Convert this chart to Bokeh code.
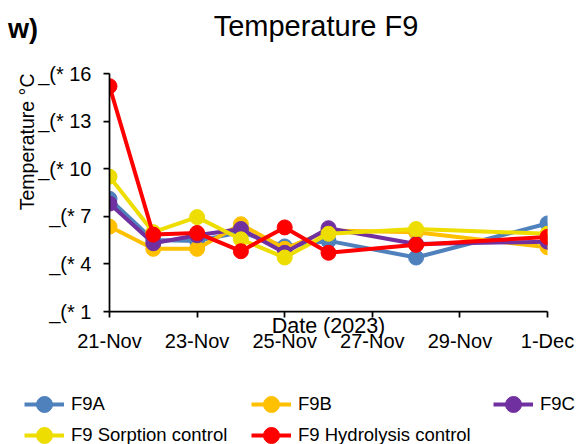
import pandas as pd
from bokeh.plotting import figure
from bokeh.layouts import column
from bokeh.models import (Range1d, FixedTicker, CustomJSTickFormatter, Label, Title,
                          Legend, LegendItem, ColumnDataSource)
from bokeh.embed import file_html
from bokeh.resources import INLINE

# ---------------- data ----------------
dates = ["2023-11-21", "2023-11-22", "2023-11-23", "2023-11-24",
         "2023-11-25", "2023-11-26", "2023-11-28", "2023-12-01"]
f9a = [8.1, 5.5, 5.45, 6.0, 5.1, 5.45, 4.4, 6.55]
f9b = [6.35, 4.95, 4.95, 6.5, 4.95, 6.1, 6.0, 5.05]
f9c = [7.8, 5.3, 5.8, 6.2, 4.7, 6.25, 5.25, 5.4]
f9_sorption = [9.5, 6.0, 6.95, 5.55, 4.4, 5.9, 6.2, 5.9]
f9_hydrolysis = [15.2, 5.85, 5.95, 4.8, 6.3, 4.7, 5.2, 5.7]
series_names = ["F9A", "F9B", "F9C", "F9 Sorption control", "F9 Hydrolysis control"]
series_colors = ["#4F81BD", "#FFC000", "#7030A0", "#EEDD00", "#FF0000"]
x_tick_dates = ["2023-11-21", "2023-11-23", "2023-11-25", "2023-11-27",
                "2023-11-29", "2023-12-01"]
y_ticks = [1, 4, 7, 10, 13, 16]
y_tick_labels = ["_(* 1", "_(* 4", "_(* 7", "_(* 10", "_(* 13", "_(* 16"]
title_text = "Temperature F9"
panel_tag = "w)"
x_title = "Date (2023)"
y_title = "Temperature °C"

FONT = "Liberation Sans"
W = 584


def bare(fig):
    fig.outline_line_color = None
    fig.grid.visible = False
    fig.background_fill_color = "white"
    fig.border_fill_color = "white"
    try:
        fig.frame_align = False
    except (AttributeError, ValueError):
        pass


# ---------------- header (panel tag + title) ----------------
head = figure(width=W, height=52, output_backend="svg", toolbar_location=None,
              x_axis_location=None, y_axis_location=None,
              min_border=0, x_range=Range1d(0, 1), y_range=Range1d(0, 1))
bare(head)
head.add_layout(Label(x=315.5, y=26.5, x_units="screen", y_units="screen",
                      text=title_text, text_align="center", text_baseline="middle",
                      text_font=FONT, text_font_size="29px", text_color="black"))
head.add_layout(Label(x=7.5, y=24, x_units="screen", y_units="screen",
                      text=panel_tag, text_align="left", text_baseline="middle",
                      text_font=FONT, text_font_size="27px", text_font_style="bold",
                      text_color="black"))

# ---------------- main chart ----------------
x = pd.to_datetime(dates)
series_values = [f9a, f9b, f9c, f9_sorption, f9_hydrolysis]

p = figure(width=W, height=308, x_axis_type="datetime",
           output_backend="svg", toolbar_location=None,
           min_border_left=109, min_border_right=37,
           min_border_top=21, min_border_bottom=49)
p.x_range = Range1d(pd.Timestamp(x_tick_dates[0]), pd.Timestamp(x_tick_dates[-1]))
p.y_range = Range1d(y_ticks[0], y_ticks[-1])
bare(p)

tick_ms = [pd.Timestamp(d).value / 1e6 for d in x_tick_dates]
p.xaxis.ticker = FixedTicker(ticks=tick_ms)
p.xaxis.formatter = CustomJSTickFormatter(code="""
const m = ["Jan","Feb","Mar","Apr","May","Jun","Jul","Aug","Sep","Oct","Nov","Dec"];
const d = new Date(tick);
return d.getUTCDate() + "-" + m[d.getUTCMonth()];
""")
p.yaxis.ticker = FixedTicker(ticks=y_ticks)
p.yaxis.major_label_overrides = {t: l for t, l in zip(y_ticks, y_tick_labels)}
for ax in (p.xaxis[0], p.yaxis[0]):
    ax.axis_line_color = "black"
    ax.axis_line_width = 1.75
    ax.major_tick_line_color = "black"
    ax.major_tick_line_width = 1.75
    ax.major_tick_in = 0
    ax.major_tick_out = 6
    ax.minor_tick_line_color = None
    ax.major_label_text_font = FONT
    ax.major_label_text_font_size = "20px"
    ax.major_label_text_color = "black"
    ax.major_label_standoff = 12

xa = p.xaxis[0]
xa.axis_label = x_title
xa.axis_label_text_font = FONT
xa.axis_label_text_font_style = "normal"
xa.axis_label_text_color = "black"
xa.axis_label_text_font_size = "21.5px"
xa.axis_label_standoff = -41

ytitle = Title(text=y_title, align="right", standoff=0,
               text_font=FONT, text_font_size="19.5px",
               text_font_style="normal", text_color="black")
try:
    ytitle.standoff = -5
except (AttributeError, ValueError):
    pass
p.add_layout(ytitle, "left")

for name, vals, col in zip(series_names, series_values, series_colors):
    src = ColumnDataSource(dict(x=x, y=vals))
    p.line("x", "y", source=src, line_color=col, line_width=4)
    p.scatter("x", "y", source=src, size=15, fill_color=col, line_color=col)

# ---------------- legend strip ----------------
leg_fig = figure(width=W, height=84, output_backend="svg", toolbar_location=None,
                 x_axis_location=None, y_axis_location=None,
                 min_border=0, x_range=Range1d(0, 1), y_range=Range1d(0, 1))
bare(leg_fig)
legend_pos = [(24, 20), (251, 20), (493, 20), (24, -11), (251, -11)]
for name, vals, col, loc in zip(series_names, series_values, series_colors, legend_pos):
    # same series, outside this strip's view: only their legend swatches show
    src = ColumnDataSource(dict(x=x, y=vals))
    lr = leg_fig.line("x", "y", source=src, line_color=col, line_width=4)
    sr = leg_fig.scatter("x", "y", source=src, size=15, fill_color=col, line_color=col)
    leg = Legend(items=[LegendItem(label=name, renderers=[lr, sr])],
                 location=loc, glyph_width=40, glyph_height=40,
                 label_standoff=7, padding=0, margin=0, spacing=0,
                 border_line_color=None, background_fill_alpha=0,
                 label_text_font=FONT, label_text_font_size="18.5px",
                 label_text_color="black")
    leg_fig.add_layout(leg)

layout = column(head, p, leg_fig, spacing=0)
open("out.html", "w").write(file_html(layout, INLINE))
